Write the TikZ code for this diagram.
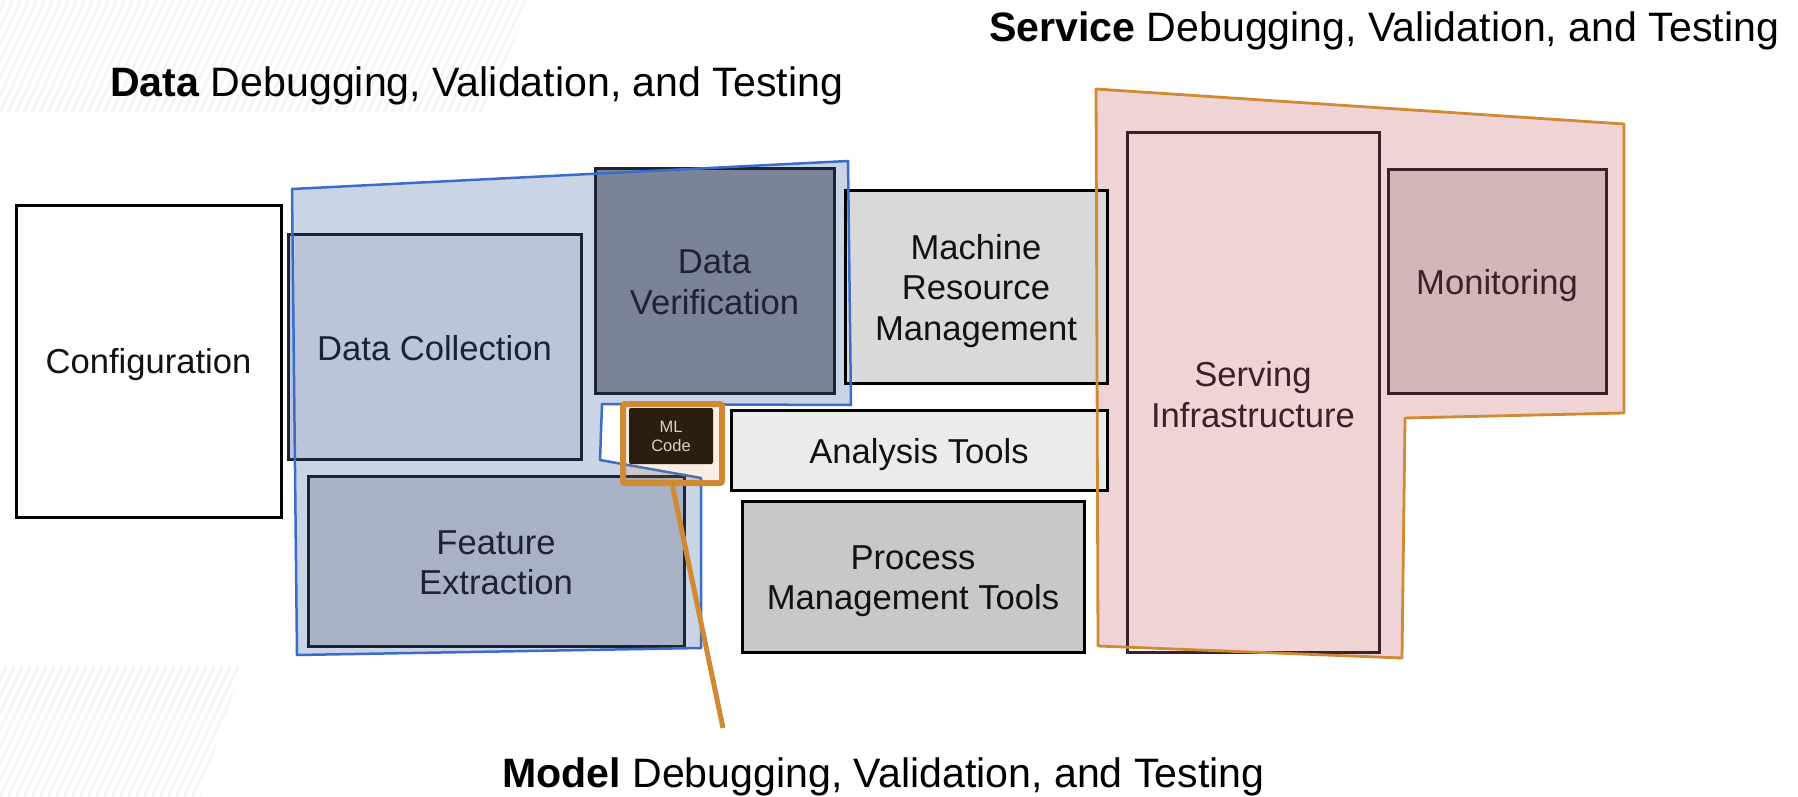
\documentclass[tikz,border=0pt]{standalone}
\usepackage{fontspec}
\setmainfont{Liberation Sans}
\newcommand\lblfont{\fontsize{34.6}{40.5}\selectfont}
\newcommand\ttlfont{\fontsize{41.1}{48}\selectfont}
\newcommand\smallfont{\fontsize{16.5}{19}\selectfont}
\definecolor{navyink}{HTML}{1C2335}
\definecolor{maroonink}{HTML}{3A2226}
\definecolor{dataline}{HTML}{3A6CCC}
\definecolor{datafill}{HTML}{C9D4E4}
\definecolor{svcline}{HTML}{D08A34}
\definecolor{svcfill}{HTML}{F0D3D5}
\definecolor{collfill}{HTML}{BBC5D9}
\definecolor{verfill}{HTML}{7B8397}
\definecolor{featfill}{HTML}{A9B2C5}
\definecolor{machfill}{HTML}{D9D9D9}
\definecolor{anafill}{HTML}{EBEBEB}
\definecolor{procfill}{HTML}{C8C8C8}
\definecolor{monfill}{HTML}{D4B5B8}
\definecolor{codefill}{HTML}{2B1D0F}
\definecolor{codeink}{HTML}{DCD0BC}
\definecolor{stripe}{HTML}{F3F3F3}
\begin{document}
\begin{tikzpicture}[x=1pt,y=-1pt,
  box/.style={draw=black, line width=3pt, inner sep=0pt},
  databox/.style={box, draw=navyink},
  svcbox/.style={box, draw=maroonink},
  lbl/.style={inner sep=0pt, align=center, font=\lblfont, text=black!93},
  datalbl/.style={lbl, text=navyink},
  svclbl/.style={lbl, text=maroonink},
  title/.style={anchor=base west, inner sep=0pt, font=\ttlfont}]
\useasboundingbox (0,0) rectangle (1798,797);

% faint striped background corners
\begin{scope}
  \clip (0,0) -- (530,0) -- (486,112) -- (0,112) -- cycle;
  \foreach \i in {-10,...,70} {
    \draw[stripe, line width=2.5pt] (\i*8,112) -- ++(53,-112);
  }
\end{scope}
\begin{scope}
  \clip (0,667) -- (241,667) -- (200,797) -- (0,797) -- cycle;
  \foreach \i in {-10,...,35} {
    \draw[stripe, line width=2.5pt] (\i*8,797) -- ++(62,-130);
  }
\end{scope}

% group regions (fills)
\fill[datafill] (292,189) -- (848,161) -- (851,405) -- (602,404) -- (600,460)
  -- (701,478) -- (701,648) -- (297,655) -- cycle;
\fill[svcfill] (1096,89) -- (1624,124) -- (1624,413) -- (1405,418)
  -- (1402,658) -- (1098,646) -- cycle;

% component boxes
\node[box, minimum width=265, minimum height=312] (config) at (148.5,361) {};
\node[databox, fill=collfill, minimum width=293, minimum height=225] (collect) at (434.5,346.5) {};
\node[databox, fill=verfill, minimum width=239, minimum height=225] (verify) at (714.5,280.5) {};
\node[databox, fill=featfill, minimum width=376, minimum height=170] (feature) at (496,561) {};
\node[box, fill=machfill, minimum width=262, minimum height=193] (machine) at (976,286.5) {};
\node[box, fill=anafill, minimum width=376, minimum height=80] (analysis) at (919,450) {};
\node[box, fill=procfill, minimum width=342, minimum height=151] (process) at (913,576.5) {};
\node[svcbox, minimum width=252, minimum height=519] (serving) at (1253,392.5) {};
\node[svcbox, fill=monfill, minimum width=218, minimum height=224] (monitor) at (1497,281) {};

% component labels (nudged down a little inside their boxes)
\node[lbl] (config-t) at ([yshift=-3.5]config.center) {Configuration};
\node[datalbl] (collect-t) at ([yshift=-1.5]collect.center) {Data Collection};
\node[datalbl] (verify-t) at ([yshift=-2]verify.center) {Data\\Verification};
\node[datalbl] (feature-t) at ([yshift=-2]feature.center) {Feature\\Extraction};
\node[lbl] (machine-t) at ([yshift=-4.5]machine.center) {Machine\\Resource\\Management};
\node[lbl] (analysis-t) at ([yshift=-4.5]analysis.center) {Analysis Tools};
\node[lbl] (process-t) at ([yshift=-4.5]process.center) {Process\\Management Tools};
\node[svclbl] (serving-t) at ([yshift=-2]serving.center) {Serving\\Infrastructure};
\node[svclbl] (monitor-t) at ([yshift=-4.5]monitor.center) {Monitoring};

% group region outlines
\draw[dataline, line width=2.5pt, line join=round] (292,189) -- (848,161) -- (851,405) -- (602,404)
  -- (600,460) -- (701,478) -- (701,648) -- (297,655) -- cycle;
\draw[svcline, line width=2.8pt, line join=round] (1096,89) -- (1624,124) -- (1624,413) -- (1405,418)
  -- (1402,658) -- (1098,646) -- cycle;

% ML code and its highlight
\node[draw=svcline, fill=svcline, fill opacity=0.15, draw opacity=1, line width=6pt,
  rounded corners=2pt, minimum width=99, minimum height=79, inner sep=0pt] (mlframe) at (672.5,443.5) {};
\node[fill=codefill, rounded corners=2pt, minimum width=84, minimum height=56, inner sep=0pt,
  align=center, font=\smallfont, text=codeink] (mlcode) at (671,436) {ML\\Code};
\coordinate (mtail) at (723,728);
\draw[svcline, line width=5pt] (mlframe.south) -- (mtail);

% titles
\node[title] (datattl) at (110,97) {\textbf{Data} Debugging, Validation, and Testing};
\node[title] (svcttl) at (989,42) {\textbf{Service} Debugging, Validation, and Testing};
\node[title] (modelttl) at (502,787) {\textbf{Model} Debugging, Validation, and Testing};
\end{tikzpicture}
\end{document}
